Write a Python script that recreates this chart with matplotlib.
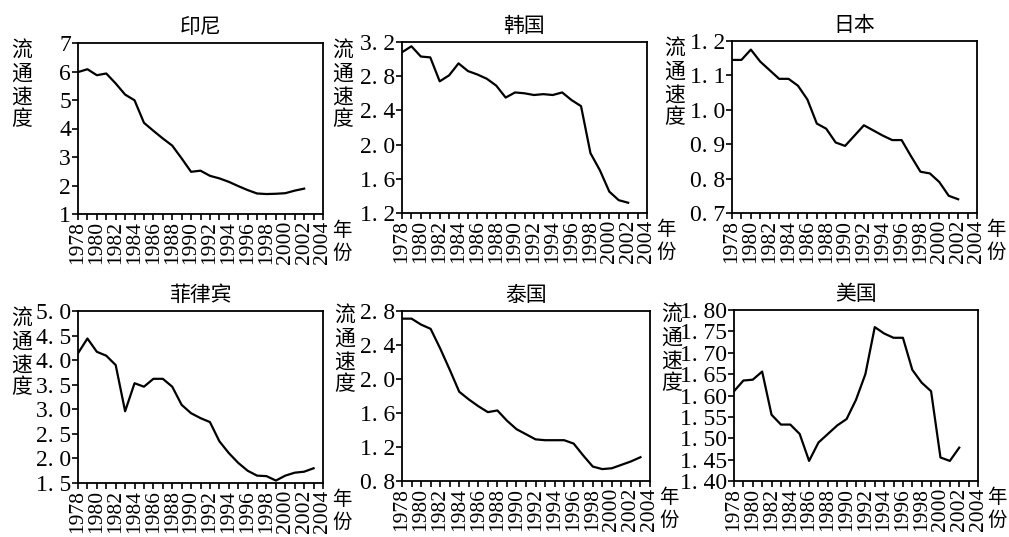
import numpy as np
import matplotlib
matplotlib.use('Agg')
from matplotlib import pyplot as plt
from matplotlib.ticker import MultipleLocator

plt.rcParams['font.family'] = ['Liberation Serif', 'Noto Sans CJK SC']
CJK = ['Noto Sans CJK SC', 'DejaVu Sans']

# ---- data ----
countries = ['印尼', '韩国', '日本', '菲律宾', '泰国', '美国']

years_25 = list(range(1978, 2003))
years_26 = list(range(1978, 2004))

indonesia = [5.98, 6.08, 5.87, 5.93, 5.58, 5.19, 4.99, 4.20, 3.92, 3.65, 3.40, 2.95, 2.48,
             2.52, 2.34, 2.25, 2.13, 1.98, 1.84, 1.72, 1.70, 1.71, 1.73, 1.82, 1.89]
korea = [3.08, 3.15, 3.03, 3.02, 2.74, 2.81, 2.95, 2.86, 2.82, 2.77, 2.69, 2.55, 2.61,
         2.60, 2.58, 2.59, 2.58, 2.61, 2.52, 2.45, 1.90, 1.70, 1.45, 1.35, 1.32]
japan = [1.145, 1.145, 1.175, 1.140, 1.115, 1.090, 1.090, 1.070, 1.030, 0.960, 0.945, 0.905,
         0.895, 0.925, 0.955, 0.940, 0.925, 0.912, 0.912, 0.865, 0.820, 0.815, 0.790, 0.750, 0.740]
philippines = [4.14, 4.44, 4.17, 4.09, 3.90, 2.96, 3.53, 3.46, 3.62, 3.62, 3.46, 3.09, 2.92,
               2.82, 2.74, 2.35, 2.11, 1.91, 1.75, 1.65, 1.64, 1.55, 1.65, 1.71, 1.73, 1.80]
thailand = [2.71, 2.71, 2.64, 2.59, 2.36, 2.11, 1.85, 1.76, 1.68, 1.61, 1.63, 1.51, 1.41,
            1.35, 1.29, 1.28, 1.28, 1.28, 1.24, 1.10, 0.97, 0.94, 0.95, 0.99, 1.03, 1.08]
usa = [1.610, 1.635, 1.637, 1.656, 1.555, 1.532, 1.532, 1.510, 1.447, 1.490, 1.510, 1.530,
       1.545, 1.590, 1.650, 1.760, 1.745, 1.735, 1.735, 1.660, 1.630, 1.610, 1.455, 1.447, 1.478]

series = [(years_25, indonesia), (years_25, korea), (years_25, japan),
          (years_26, philippines), (years_26, thailand), (years_25, usa)]

yticks = [
    [1, 2, 3, 4, 5, 6, 7],
    [1.2, 1.6, 2.0, 2.4, 2.8, 3.2],
    [0.7, 0.8, 0.9, 1.0, 1.1, 1.2],
    [1.5, 2.0, 2.5, 3.0, 3.5, 4.0, 4.5, 5.0],
    [0.8, 1.2, 1.6, 2.0, 2.4, 2.8],
    [1.40, 1.45, 1.50, 1.55, 1.60, 1.65, 1.70, 1.75, 1.80],
]
ytick_labels = [
    ['1', '2', '3', '4', '5', '6', '7'],
    ['1. 2', '1. 6', '2. 0', '2. 4', '2. 8', '3. 2'],
    ['0. 7', '0. 8', '0. 9', '1. 0', '1. 1', '1. 2'],
    ['1. 5', '2. 0', '2. 5', '3. 0', '3. 5', '4. 0', '4. 5', '5. 0'],
    ['0. 8', '1. 2', '1. 6', '2. 0', '2. 4', '2. 8'],
    ['1. 40', '1. 45', '1. 50', '1. 55', '1. 60', '1. 65', '1. 70', '1. 75', '1. 80'],
]
xtick_years = list(range(1978, 2005, 2))

# ---- layout in pixels ----
W, H = 1009, 537
fig = plt.figure(figsize=(W / 100, H / 100), dpi=100)

boxes = [(78, 43, 323, 214), (402, 42, 647, 213), (732, 41, 977, 213),
         (78, 311, 323, 483), (402, 311, 650, 481), (734, 310, 978, 481)]
ylab_pos = [(22, 40), (343, 40), (675, 38), (22, 308), (345, 305), (672, 304)]

for i, (l, t, r, b) in enumerate(boxes):
    ax = fig.add_axes([l / W, 1 - b / H, (r - l) / W, (b - t) / H])
    xs, ys = series[i]
    ax.plot(xs, ys, color='black', lw=1.6)
    ax.set_xlim(1978, 2004)
    ax.set_ylim(yticks[i][0], yticks[i][-1])
    ax.set_xticks(xtick_years)
    ax.set_xticklabels([str(y) for y in xtick_years], rotation=90, fontsize=15.5)
    ax.xaxis.set_minor_locator(MultipleLocator(1))
    ax.set_yticks(yticks[i])
    ax.set_yticklabels(ytick_labels[i], fontsize=17)
    ax.tick_params(axis='both', which='both', direction='out', length=4, width=1.2, pad=1)
    for sp in ax.spines.values():
        sp.set_linewidth(1.3)
    ax.set_title(countries[i], family=CJK, fontsize=15, pad=7)

    cx, cy = ylab_pos[i]
    fig.text(cx / W, 1 - cy / H, '流\n通\n速\n度', family=CJK, fontsize=15,
             ha='center', va='top', linespacing=1.05)
    fig.text((r + 9) / W, 1 - (b + 6) / H, '年\n份', family=CJK, fontsize=14,
             ha='left', va='top', linespacing=1.15)

fig.savefig('out.png', dpi=100)
